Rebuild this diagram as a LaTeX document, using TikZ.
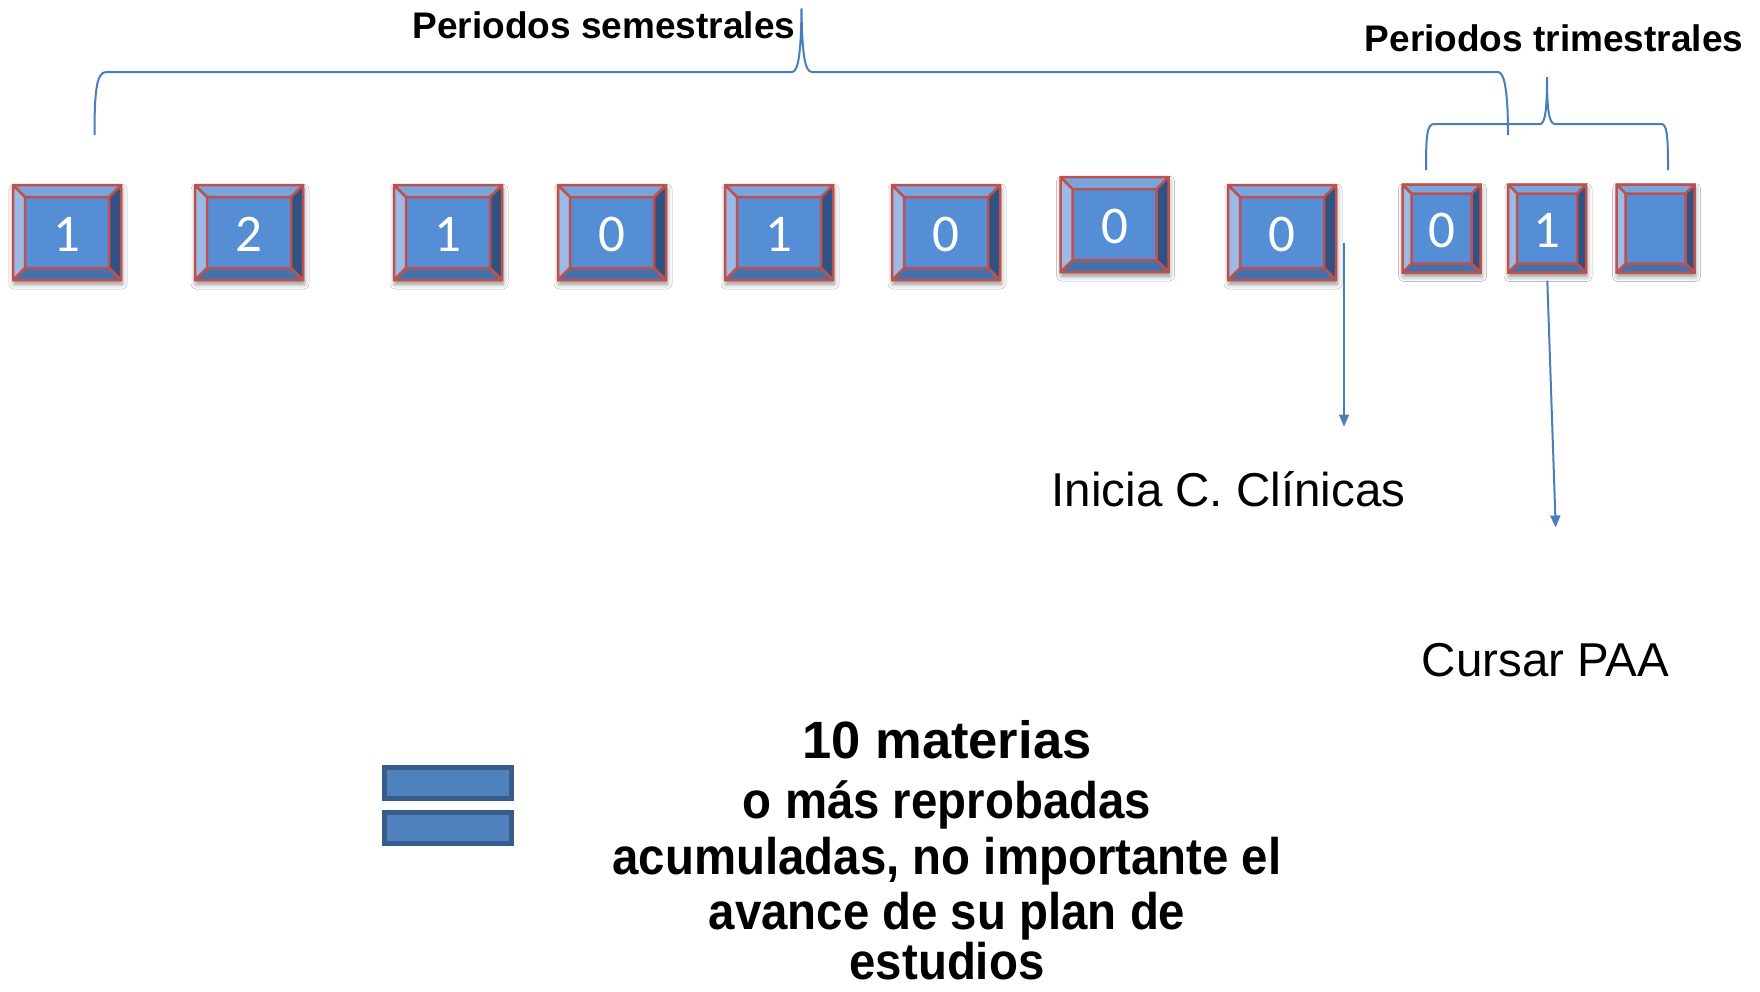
\documentclass[tikz,border=0pt]{standalone}
\usepackage{fontspec}
\usetikzlibrary{calc,arrows.meta,shadows.blur}
\newfontfamily\arialf{Liberation Sans}
\newfontfamily\calibf{Carlito}
\newfontfamily\narrowf[FakeStretch=0.92]{Liberation Sans}
\definecolor{facec}{RGB}{85,142,213}
\definecolor{topc}{RGB}{121,165,221}
\definecolor{leftc}{RGB}{155,186,229}
\definecolor{rightc}{RGB}{47,82,130}
\definecolor{botc}{RGB}{68,114,171}
\definecolor{redc}{RGB}{192,80,77}
\definecolor{linec}{RGB}{74,126,187}
\definecolor{eqfill}{RGB}{79,129,189}
\definecolor{eqdraw}{RGB}{56,93,138}
\tikzset{
  digit/.style={text=white, font=\calibf\fontsize{53}{60}\selectfont, inner sep=0pt},
  brace/.style={draw=linec, line width=2pt},
  arrowline/.style={draw=linec, line width=2pt, -{Triangle[length=12pt,width=10pt]}},
  boldtxt/.style={font=\arialf\bfseries\fontsize{37}{44}\selectfont, anchor=base, inner sep=0pt},
  plaintxt/.style={font=\arialf\fontsize{47.5}{56}\selectfont, anchor=base, inner sep=0pt},
  bigtxt/.style={font=\arialf\bfseries\fontsize{52.5}{60}\selectfont, anchor=base, inner sep=0pt},
  blocktxt/.style={font=\narrowf\bfseries\fontsize{51.5}{60}\selectfont, anchor=base, inner sep=0pt},
  eqbar/.style={draw=eqdraw, fill=eqfill, line width=5pt, minimum width=127pt, minimum height=30.7pt, inner sep=0pt}
}
\newcommand\bevbox[7]{%
\node[inner sep=0pt,outer sep=0pt,minimum width=#4pt,minimum height=#5pt] (#1) at (#2,#3) {};
\fill[facec, blur shadow={shadow xshift=1pt,shadow yshift=-4pt,shadow blur radius=5pt,shadow opacity=45}] (#1.north west) rectangle (#1.south east);
\fill[topc] (#1.north west) -- (#1.north east) -- ($(#1.north east)+(-#6,#6)$) -- ($(#1.north west)+(#6,#6)$) -- cycle;
\fill[botc] (#1.south west) -- (#1.south east) -- ($(#1.south east)+(-#6,-#6)$) -- ($(#1.south west)+(#6,-#6)$) -- cycle;
\fill[leftc] (#1.north west) -- (#1.south west) -- ($(#1.south west)+(#6,-#6)$) -- ($(#1.north west)+(#6,#6)$) -- cycle;
\fill[rightc] (#1.north east) -- (#1.south east) -- ($(#1.south east)+(-#6,-#6)$) -- ($(#1.north east)+(-#6,#6)$) -- cycle;
\draw[redc, line width=2.5pt] (#1.north west) rectangle (#1.south east)
  ($(#1.north west)+(#6,#6)$) rectangle ($(#1.south east)+(-#6,-#6)$)
  (#1.north west) -- ++(#6,#6) (#1.north east) -- ++(-#6,#6)
  (#1.south west) -- ++(#6,-#6) (#1.south east) -- ++(-#6,-#6);
\node[digit] (#1t) at ($(#1)+(0,1.5)$) {#7};
}
\begin{document}
\begin{tikzpicture}[x=1pt,y=-1pt]
\useasboundingbox (0,0) rectangle (1760,991);
\fill[white] (0,0) rectangle (1760,991);

% boxes
\bevbox{B1}{67}{232.5}{108}{95}{12}{1}
\bevbox{B2}{249}{232.5}{108}{95}{12}{2}
\bevbox{B3}{448}{232.5}{108}{95}{12}{1}
\bevbox{B4}{612}{232.5}{108}{95}{12}{0}
\bevbox{B5}{779}{232.5}{108}{95}{12}{1}
\bevbox{B6}{946}{232.5}{108}{95}{12}{0}
\bevbox{B7}{1114.5}{224.5}{108}{95}{12}{0}
\bevbox{B8}{1282}{232.5}{108}{95}{12}{0}
\bevbox{B9}{1441.5}{228.5}{78}{88}{9}{0}
\bevbox{B10}{1547}{228.5}{78}{88}{9}{1}
\bevbox{B11}{1655.5}{228.5}{78}{88}{9}{}

% braces
\draw[brace] (94.5,135) .. controls (94.5,95) and (96,72) .. (106,72) -- (792,72)
  .. controls (798,72) and (801,55) .. (801.5,8.5)
  .. controls (802,55) and (805,72) .. (812,72) -- (1498,72)
  .. controls (1505,72) and (1508,95) .. (1508,135);
\draw[brace] (1426,170) .. controls (1426,135) and (1427,124) .. (1434,124) -- (1540,124)
  .. controls (1545,124) and (1547,110) .. (1547,77)
  .. controls (1547,110) and (1549,124) .. (1555,124) -- (1661,124)
  .. controls (1667,124) and (1668,135) .. (1668,170);

% labels
\node[boldtxt] (sem) at (604,38.3) {Periodos semestrales};
\node[boldtxt] (tri) at (1554,51) {Periodos trimestrales};
\node[plaintxt] (ini) at (1228.5,506.7) {Inicia C. Clínicas};
\node[plaintxt] (cur) at (1545.4,676) {Cursar PAA};

% arrows
\coordinate (a1s) at (1344,243);
\coordinate (a1e) at (1344,426.5);
\coordinate (a2s) at (1547.3,280.7);
\coordinate (a2e) at (1555.7,527.5);
\draw[arrowline] (a1s) -- (a1e);
\draw[arrowline] (a2s) -- (a2e);

% equals sign
\node[eqbar] (eq1) at (448.2,782.9) {};
\node[eqbar] (eq2) at (448.2,827.9) {};

% text block
\node[bigtxt] (t1) at (947,758) {10 materias};
\node[blocktxt] (t2) at (947,818.3) {o más reprobadas};
\node[blocktxt] (t3) at (947,874.5) {acumuladas, no importante el};
\node[blocktxt] (t4) at (947,929.5) {avance de su plan de};
\node[blocktxt] (t5) at (947,979) {estudios};
\end{tikzpicture}
\end{document}
